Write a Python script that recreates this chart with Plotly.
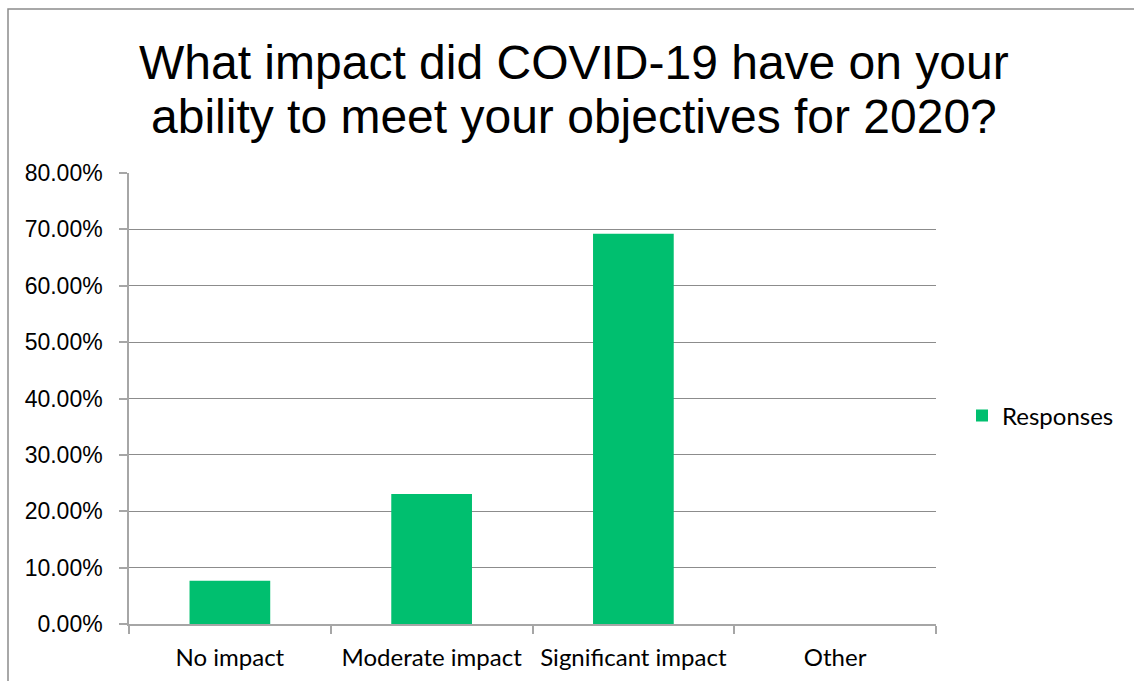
import plotly.graph_objects as go

categories = ["No impact", "Moderate impact", "Significant impact", "Other"]
responses = [0.0769, 0.2308, 0.6923, 0.0]
tick_vals = [0, 0.1, 0.2, 0.3, 0.4, 0.5, 0.6, 0.7, 0.8]
tick_text = ["0.00%", "10.00%", "20.00%", "30.00%", "40.00%", "50.00%", "60.00%", "70.00%", "80.00%"]
title_lines = ["What impact did COVID-19 have on your", "ability to meet your objectives for 2020?"]

W, H = 1134, 681
L, R, T, B = 129, 198, 173, 57
pw, ph = W - L - R, H - T - B

fig = go.Figure()
fig.add_trace(go.Bar(
    x=categories, y=responses, name="Responses",
    marker=dict(color="#00BF6F", line=dict(width=0)),
    width=0.4, showlegend=True,
))

fig.update_layout(
    width=W, height=H,
    margin=dict(l=L, r=R, t=T, b=B, autoexpand=False),
    paper_bgcolor="white", plot_bgcolor="white",
    legend=dict(
        x=(962 - L) / pw, xanchor="left", y=(624 - 416) / ph, yanchor="middle",
        font=dict(family="Lato, Carlito, sans-serif", size=24, color="black"),
        itemwidth=30, bgcolor="rgba(0,0,0,0)",
    ),
    showlegend=True,
)

# two-line chart title, one annotation per line
for line, yc in zip(title_lines, [62, 117]):
    fig.add_annotation(
        text=line, xref="paper", yref="paper",
        x=(574 - L) / pw, y=(624 - yc) / ph, xanchor="center", yanchor="middle",
        showarrow=False,
        font=dict(family="Liberation Sans, Arial", size=48, color="black"),
    )

fig.update_xaxes(
    type="category",
    showline=True, linecolor="#A6A6A6", linewidth=1.5,
    ticks="outside", tickson="boundaries", ticklen=8, tickcolor="#A6A6A6", tickwidth=1.5,
    showgrid=False, ticklabelstandoff=11,
    tickfont=dict(family="Lato, Carlito, sans-serif", size=24, color="black"),
)
fig.update_yaxes(
    range=[0, 0.8], tickvals=tick_vals, ticktext=tick_text,
    showline=True, linecolor="#A6A6A6", linewidth=1.5,
    ticks="outside", ticklen=8, tickcolor="#A6A6A6", tickwidth=1.5,
    showgrid=True, gridcolor="#8C8C8C", gridwidth=1.2,
    zeroline=False, ticklabelstandoff=12,
    tickfont=dict(family="Liberation Sans, Arial", size=23, color="black"),
)

# outer chart frame
fig.add_shape(
    type="rect", xref="paper", yref="paper",
    x0=(8 - L) / pw, x1=(1200 - L) / pw,
    y0=(624 - 720) / ph, y1=(624 - 9) / ph,
    line=dict(color="#8C8C8C", width=1.5), fillcolor="rgba(0,0,0,0)", layer="below",
)

fig.write_html("out.html")
